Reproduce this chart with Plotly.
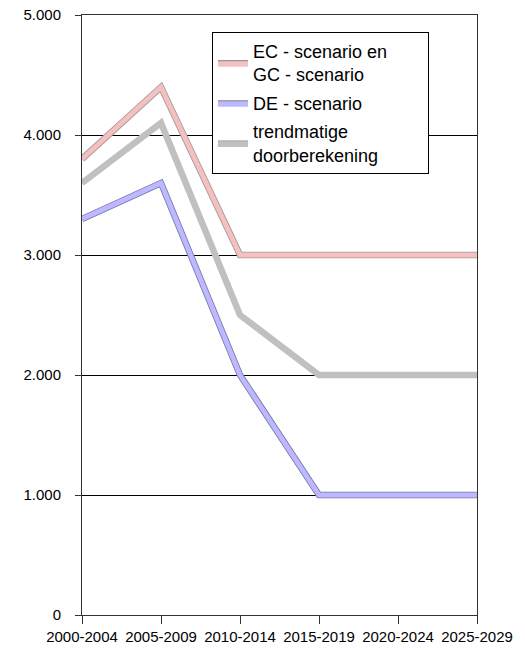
import plotly.graph_objects as go

categories = ["2000-2004", "2005-2009", "2010-2014", "2015-2019", "2020-2024", "2025-2029"]
ec_gc = [3800, 4400, 3000, 3000, 3000, 3000]
de = [3300, 3600, 2000, 1000, 1000, 1000]
trend = [3600, 4100, 2500, 2000, 2000, 2000]
y_ticks = [0, 1000, 2000, 3000, 4000, 5000]
y_tick_labels = ["0", "1.000", "2.000", "3.000", "4.000", "5.000"]

pad = "\u00a0" * 7
names = ["EC - scenario en" + pad + "<br>GC - scenario", "DE - scenario", "trendmatige<br>doorberekening"]
series = [ec_gc, de, trend]
fills = ["#F4C0C0", "#BDB8FF", "#C0C0C0"]
edges = ["#A89898", "#7878A8", "#C0C0C0"]

x_idx = list(range(len(categories)))
fig = go.Figure()

# draw order: trend (gray) first, then blue, then pink on top
for i in [2, 1, 0]:
    fig.add_trace(go.Scatter(x=x_idx, y=series[i], mode="lines",
                             line=dict(color=edges[i], width=6.5),
                             showlegend=False, hoverinfo="skip"))
    fig.add_trace(go.Scatter(x=x_idx, y=series[i], mode="lines",
                             line=dict(color=fills[i], width=4.8),
                             showlegend=False, name=names[i]))

# legend entries (filled rectangle symbols)
for i in range(3):
    fig.add_trace(go.Scatter(x=[None], y=[None], mode="lines", fill="toself",
                             fillcolor=fills[i],
                             line=dict(color="#808080" if i != 2 else "#A0A0A0", width=1),
                             name=names[i], showlegend=True,
                             legendgroup="g%d" % i))

fig.update_layout(
    width=525, height=650,
    margin=dict(l=82, r=48, t=15, b=35),
    paper_bgcolor="white", plot_bgcolor="white",
    font=dict(family="Liberation Sans, Arial, sans-serif", size=15, color="#000"),
    showlegend=True,
    legend=dict(x=0.329, y=0.972, xanchor="left", yanchor="top",
                bgcolor="white", bordercolor="#000", borderwidth=1,
                font=dict(size=18), tracegroupgap=2,
                itemwidth=30),
)
fig.update_xaxes(
    tickmode="array", tickvals=x_idx, ticktext=categories,
    range=[0, len(categories) - 1], automargin=False,
    showgrid=False, zeroline=False,
    showline=True, linecolor="#333", linewidth=1, mirror=True,
    ticks="outside", ticklen=8, tickcolor="#333",
    tickfont=dict(size=15), ticklabeloverflow="allow",
)
fig.update_yaxes(
    tickmode="array", tickvals=y_ticks, ticktext=y_tick_labels,
    range=[0, 5000], automargin=False,
    showgrid=True, gridcolor="#000", gridwidth=1,
    zeroline=False,
    showline=True, linecolor="#333", linewidth=1, mirror=True,
    ticks="outside", ticklen=6, tickcolor="#333",
    ticklabelstandoff=11, ticklabeloverflow="allow",
    tickfont=dict(size=15),
)

fig.write_html("out.html", config={"displayModeBar": False},
               post_script="document.body.style.margin='0';")
